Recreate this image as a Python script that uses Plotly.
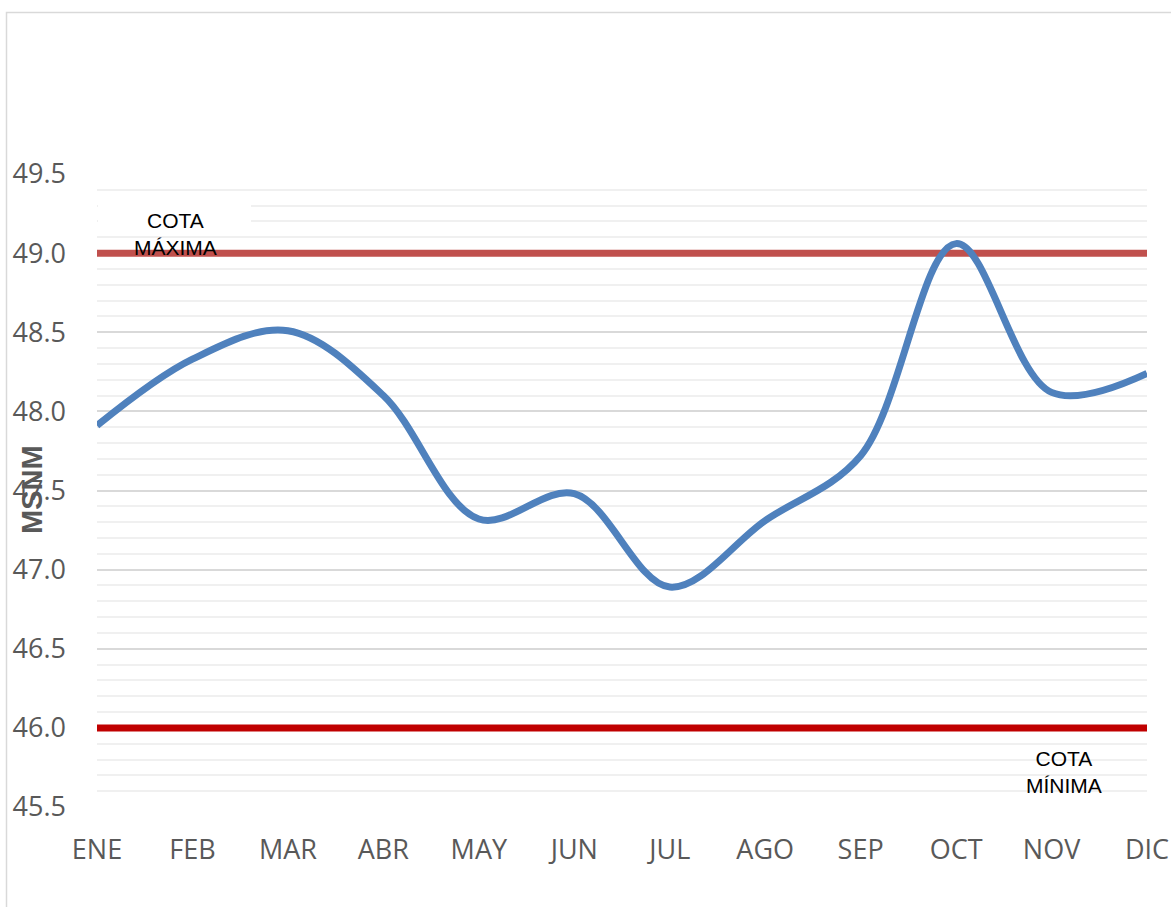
import plotly.graph_objects as go

months = ["ENE", "FEB", "MAR", "ABR", "MAY", "JUN", "JUL", "AGO", "SEP", "OCT", "NOV", "DIC"]
nivel = [47.91, 48.33, 48.51, 48.10, 47.32, 47.48, 46.89, 47.31, 47.72, 49.06, 48.12, 48.24]
cota_maxima = [49.0] * 12
cota_minima = [46.0] * 12
y_ticks = [45.5, 46.0, 46.5, 47.0, 47.5, 48.0, 48.5, 49.0, 49.5]

L, R, T, B = 97, 24, 174, 100
W, H = 1171, 907
pw, ph = W - L - R, H - T - B

def px(x):
    return (x - L) / pw

def py(y):
    return (H - B - y) / ph

fig = go.Figure()
fig.add_trace(go.Scatter(x=months, y=cota_maxima, mode="lines",
                         line=dict(color="#C0504D", width=7), hoverinfo="skip"))
fig.add_trace(go.Scatter(x=months, y=cota_minima, mode="lines",
                         line=dict(color="#C00000", width=7), hoverinfo="skip"))
fig.add_trace(go.Scatter(x=months, y=nivel, mode="lines",
                         line=dict(color="#4F81BD", width=7, shape="spline", smoothing=1.0)))

font_ticks = dict(family="Open Sans, sans-serif", size=27, color="#595959")
font_ann = dict(family="Liberation Sans, Arial, sans-serif", size=21, color="black")

fig.update_layout(
    width=W, height=H,
    margin=dict(l=L, r=R, t=T, b=B, autoexpand=False),
    paper_bgcolor="white", plot_bgcolor="white",
    showlegend=False,
    xaxis=dict(type="category", range=[0, 11], showgrid=False, zeroline=False,
               showline=False, ticks="", tickfont=font_ticks, ticklabelstandoff=24,
               automargin=False),
    yaxis=dict(range=[45.5, 49.5], tickvals=y_ticks,
               ticktext=[f"{v:.1f}" for v in y_ticks],
               showgrid=True, gridcolor="#D9D9D9", gridwidth=1.5,
               minor=dict(dtick=0.1, showgrid=True, gridcolor="#F0F0F0", gridwidth=1.5),
               zeroline=False, showline=False, ticks="", tickfont=font_ticks,
               ticklabelstandoff=30, automargin=False),
    shapes=[
        dict(type="rect", xref="paper", yref="paper",
             x0=px(6.5), x1=px(1185), y0=py(12.5), y1=py(930),
             line=dict(color="#D9D9D9", width=1.5), fillcolor="rgba(0,0,0,0)", layer="below"),
    ],
    annotations=[
        dict(text=" ", xref="paper", yref="paper", x=px(174.5), y=py(214),
             xanchor="center", yanchor="middle", showarrow=False,
             width=153, height=30, bgcolor="white", borderpad=0, borderwidth=0,
             font=dict(size=10)),
        dict(text="COTA<br>MÁXIMA", xref="paper", yref="paper", x=px(175), y=py(234),
             xanchor="center", yanchor="middle", showarrow=False, font=font_ann),
        dict(text="COTA<br>MÍNIMA", xref="paper", yref="paper", x=px(1064), y=py(772),
             xanchor="center", yanchor="middle", showarrow=False, font=font_ann),
        dict(text="<b>MSNM</b>", xref="paper", yref="paper", x=px(32), y=py(490),
             xanchor="center", yanchor="middle", showarrow=False, textangle=-90,
             font=dict(family="Liberation Sans, Arial, sans-serif", size=29, color="#595959")),
    ],
)

fig.write_html("out.html", config={"displayModeBar": False},
               post_script="document.body.style.margin='0';document.body.style.padding='0';")
